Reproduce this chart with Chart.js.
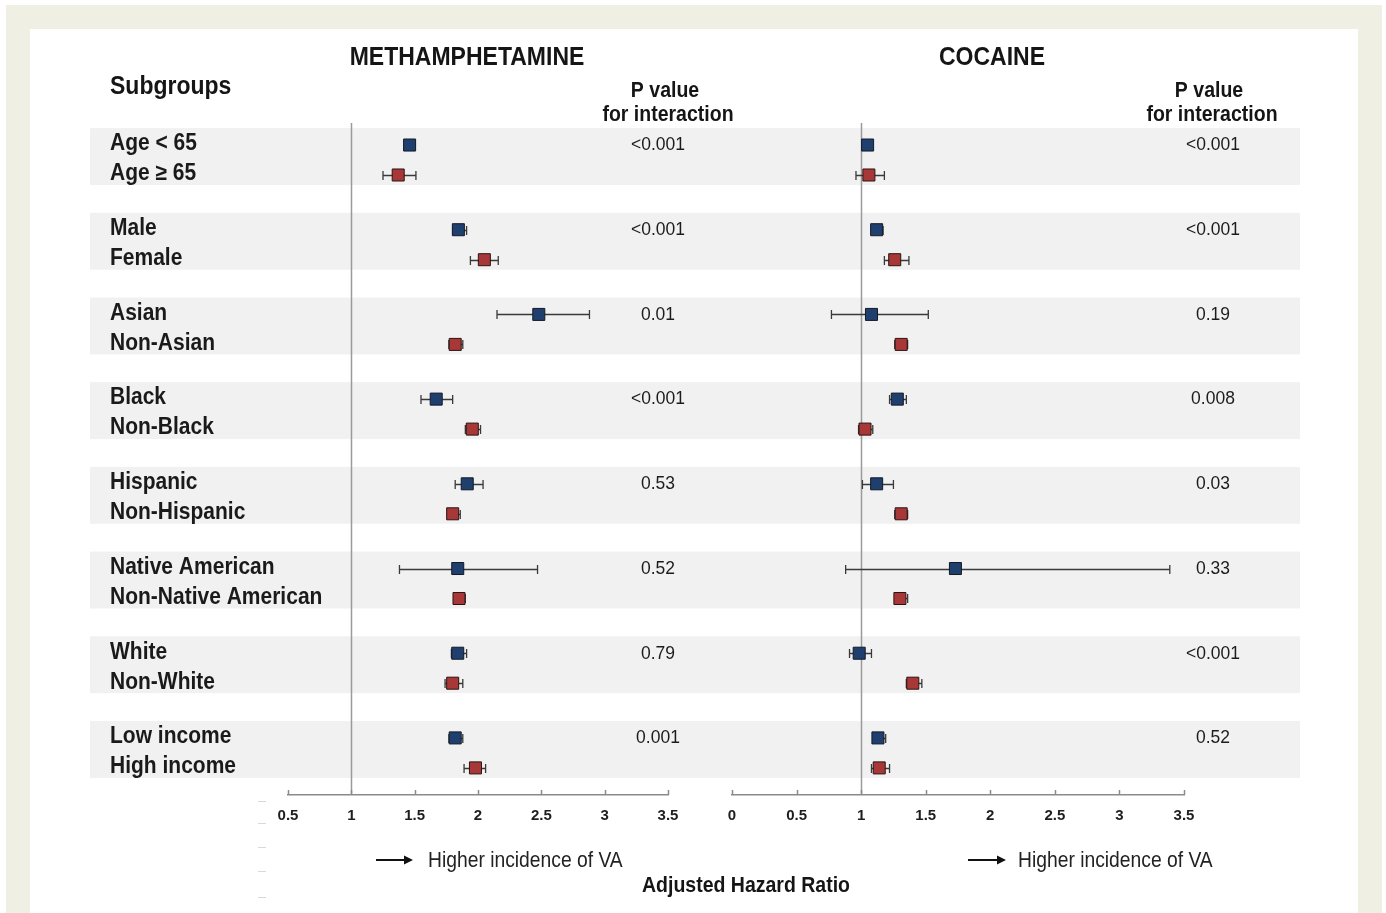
<!DOCTYPE html>
<html>
<head>
<meta charset="utf-8">
<script src="https://cdn.jsdelivr.net/npm/chart.js@4.4.1/dist/chart.umd.min.js"></script>
<style>
  html, body { margin: 0; padding: 0; background: #ffffff; }
  #wrap { position: relative; width: 1386px; height: 913px; overflow: hidden; }
  #wrap canvas { position: absolute; left: 0; top: 0; }
</style>
</head>
<body>
<div id="wrap">
  <canvas id="meth" width="1386" height="913"></canvas>
  <canvas id="coc" width="1386" height="913"></canvas>
</div>
<script>
// Subgroup rows, listed in pairs (first row of each pair in blue, second in red)
const subgroupLabels = [
  'Age < 65', 'Age \u2265 65',
  'Male', 'Female',
  'Asian', 'Non-Asian',
  'Black', 'Non-Black',
  'Hispanic', 'Non-Hispanic',
  'Native American', 'Non-Native American',
  'White', 'Non-White',
  'Low income', 'High income'
];

// Methamphetamine: adjusted hazard ratio with 95% CI
const methHR   = [1.46, 1.37, 1.845, 2.05, 2.48, 1.82, 1.67, 1.955, 1.915, 1.80, 1.84, 1.85, 1.84, 1.80, 1.82, 1.98];
const methLow  = [1.42, 1.25, 1.80, 1.94, 2.15, 1.77, 1.55, 1.90, 1.82, 1.76, 1.38, 1.81, 1.79, 1.74, 1.77, 1.89];
const methHigh = [1.50, 1.51, 1.91, 2.16, 2.88, 1.88, 1.80, 2.02, 2.04, 1.86, 2.47, 1.90, 1.91, 1.88, 1.88, 2.06];
const methP    = ['<0.001', '<0.001', '0.01', '<0.001', '0.53', '0.52', '0.79', '0.001'];

// Cocaine: adjusted hazard ratio with 95% CI
const cocHR    = [1.05, 1.06, 1.12, 1.26, 1.08, 1.31, 1.28, 1.03, 1.12, 1.31, 1.73, 1.30, 0.985, 1.40, 1.13, 1.14];
const cocLow   = [1.01, 0.96, 1.08, 1.18, 0.77, 1.26, 1.22, 0.98, 1.01, 1.26, 0.88, 1.26, 0.91, 1.35, 1.09, 1.08];
const cocHigh  = [1.08, 1.18, 1.17, 1.37, 1.52, 1.36, 1.35, 1.09, 1.25, 1.36, 3.39, 1.36, 1.08, 1.47, 1.19, 1.22];
const cocP     = ['<0.001', '<0.001', '0.19', '0.008', '0.03', '0.33', '<0.001', '0.52'];

// Axis ticks
const methTicks = [0.5, 1, 1.5, 2, 2.5, 3, 3.5];
const methTickLabels = ['0.5', '1', '1.5', '2', '2.5', '3', '3.5'];
const cocTicks = [0, 0.5, 1, 1.5, 2, 2.5, 3, 3.5];
const cocTickLabels = ['0', '0.5', '1', '1.5', '2', '2.5', '3', '3.5'];

// Row layout in y-scale units: one unit per subgroup pair
const SECOND_ROW = 0.354;      // offset of the second row in a pair
const BAND_TOP = -0.2;         // shaded band around each pair
const BAND_BOTTOM = 0.472;
const Y_MIN = -0.26, Y_MAX = 7.674;

const FONT = '"Liberation Sans", Arial, Helvetica, sans-serif';
const BLUE = '#1f3f6f';
const RED = '#a83838';
const STRETCH = 1.1;           // slightly tall lettering

function rowPos(i) { return Math.floor(i / 2) + (i % 2 ? SECOND_ROW : 0); }

function pointsFor(hr, parity) {
  const pts = [];
  hr.forEach((v, i) => { if (i % 2 === parity) pts.push({ x: v, y: rowPos(i), row: i }); });
  return pts;
}

// text drawn with a small vertical stretch around its middle line
function tallText(ctx, s, x, y, font, align, color) {
  ctx.save();
  ctx.font = font;
  ctx.textAlign = align;
  ctx.textBaseline = 'middle';
  ctx.fillStyle = color;
  ctx.translate(x, y);
  ctx.scale(1, STRETCH);
  ctx.fillText(s, 0, 0);
  ctx.restore();
}

// Page frame, shaded bands, headings and row labels
const pagePlugin = {
  id: 'page',
  beforeDraw(chart) {
    const ctx = chart.ctx;
    const y = chart.scales.y;
    ctx.save();
    ctx.fillStyle = '#ffffff';
    ctx.fillRect(0, 0, 1386, 913);
    ctx.fillStyle = '#efefe3';
    ctx.fillRect(6, 5, 1376, 908);
    ctx.fillStyle = '#ffffff';
    ctx.fillRect(30, 29, 1328, 884);

    // bands
    ctx.fillStyle = '#f1f1f1';
    for (let g = 0; g < subgroupLabels.length / 2; g++) {
      const t = y.getPixelForValue(g + BAND_TOP);
      const b = y.getPixelForValue(g + BAND_BOTTOM);
      ctx.fillRect(90, t, 1210, b - t);
    }

    // faint margin dashes
    ctx.strokeStyle = '#d9d9d9';
    ctx.lineWidth = 1;
    [801, 823, 847, 871, 897].forEach(v => {
      ctx.beginPath(); ctx.moveTo(258, v + 0.5); ctx.lineTo(266, v + 0.5); ctx.stroke();
    });

    const ink = '#151515';
    tallText(ctx, 'METHAMPHETAMINE', 467, 58, 'bold 23px ' + FONT, 'center', ink);
    tallText(ctx, 'COCAINE', 992, 58, 'bold 23px ' + FONT, 'center', ink);
    tallText(ctx, 'Subgroups', 110, 87, 'bold 23px ' + FONT, 'left', ink);

    subgroupLabels.forEach((lab, i) => {
      tallText(ctx, lab, 110, y.getPixelForValue(rowPos(i)) - 1, 'bold 21px ' + FONT, 'left', '#1a1a1a');
    });

    // headers for p values
    const hf = 'bold 19.5px ' + FONT;
    tallText(ctx, 'P value', 665, 91, hf, 'center', ink);
    tallText(ctx, 'for interaction', 668, 115, hf, 'center', ink);
    tallText(ctx, 'P value', 1209, 91, hf, 'center', ink);
    tallText(ctx, 'for interaction', 1212, 115, hf, 'center', ink);

    // footer
    tallText(ctx, 'Adjusted Hazard Ratio', 746, 886, hf, 'center', ink);
    tallText(ctx, 'Higher incidence of VA', 428, 861, '19.3px ' + FONT, 'left', '#222');
    tallText(ctx, 'Higher incidence of VA', 1018, 861, '19.3px ' + FONT, 'left', '#222');
    [[376, 413], [968, 1006]].forEach(([a, b]) => {
      ctx.strokeStyle = '#111';
      ctx.lineWidth = 2;
      ctx.beginPath(); ctx.moveTo(a, 860); ctx.lineTo(b - 6, 860); ctx.stroke();
      ctx.fillStyle = '#111';
      ctx.beginPath(); ctx.moveTo(b, 860); ctx.lineTo(b - 9, 855.5); ctx.lineTo(b - 9, 864.5); ctx.closePath(); ctx.fill();
    });
    ctx.restore();
  }
};

// Reference line at HR = 1, CI whiskers, upward tick marks and p values
const forestPlugin = {
  id: 'forest',
  beforeDatasetsDraw(chart, args, opts) {
    const ctx = chart.ctx;
    const x = chart.scales.x, y = chart.scales.y;
    const area = chart.chartArea;
    ctx.save();
    // reference line
    ctx.strokeStyle = '#9a9a9a';
    ctx.lineWidth = 1.5;
    const x1 = Math.round(x.getPixelForValue(1)) + 0.5;
    ctx.beginPath(); ctx.moveTo(x1, area.top); ctx.lineTo(x1, area.bottom); ctx.stroke();

    // tick marks pointing up from the axis line
    ctx.strokeStyle = '#8a8a8a';
    ctx.lineWidth = 1.5;
    opts.ticks.forEach(v => {
      const px = Math.round(x.getPixelForValue(v)) + 0.5;
      ctx.beginPath(); ctx.moveTo(px, area.bottom); ctx.lineTo(px, area.bottom - 5); ctx.stroke();
    });

    // CI whiskers
    ctx.strokeStyle = '#3a3a3a';
    ctx.lineWidth = 1.3;
    opts.low.forEach((lo, i) => {
      const py = Math.round(y.getPixelForValue(rowPos(i))) + 0.5;
      const a = x.getPixelForValue(lo), b = x.getPixelForValue(opts.high[i]);
      ctx.beginPath();
      ctx.moveTo(a, py); ctx.lineTo(b, py);
      ctx.moveTo(a, py - 4.5); ctx.lineTo(a, py + 4.5);
      ctx.moveTo(b, py - 4.5); ctx.lineTo(b, py + 4.5);
      ctx.stroke();
    });

    // p values for interaction
    opts.p.forEach((s, g) => {
      tallText(ctx, s, opts.pX, y.getPixelForValue(g), '17.5px ' + FONT, 'center', '#1c1c1c');
    });
    ctx.restore();
  }
};

function makeChart(id, hr, low, high, pvals, ticks, tickLabels, xmin, xmax, left, right, pX, plugins) {
  return new Chart(document.getElementById(id), {
    type: 'scatter',
    data: {
      datasets: [
        { data: pointsFor(hr, 0), backgroundColor: BLUE, borderColor: '#141a24' },
        { data: pointsFor(hr, 1), backgroundColor: RED, borderColor: '#2a1414' }
      ]
    },
    options: {
      responsive: false,
      animation: false,
      events: [],
      devicePixelRatio: 1,
      layout: { padding: { left: left, right: 1386 - right, top: 123, bottom: 88 } },
      elements: { point: { pointStyle: 'rect', radius: 8.5, borderWidth: 1 } },
      plugins: {
        legend: { display: false },
        tooltip: { enabled: false },
        forest: { low: low, high: high, p: pvals, ticks: ticks, pX: pX }
      },
      scales: {
        x: {
          type: 'linear',
          min: xmin, max: xmax,
          afterBuildTicks(scale) { scale.ticks = ticks.map(v => ({ value: v })); },
          afterFit(scale) { scale.height = 30; },
          ticks: {
            color: '#1e1e1e',
            font: { family: FONT, size: 15, weight: 'bold' },
            padding: 12,
            callback: (v) => tickLabels[ticks.indexOf(v)]
          },
          grid: { display: false, drawTicks: false },
          border: { display: true, color: '#8a8a8a', width: 1.5 }
        },
        y: {
          type: 'linear', reverse: true, min: Y_MIN, max: Y_MAX, display: false
        }
      }
    },
    plugins: plugins
  });
}

makeChart('meth', methHR, methLow, methHigh, methP, methTicks, methTickLabels, 0.5, 3.5, 288, 668, 658, [pagePlugin, forestPlugin]);
makeChart('coc', cocHR, cocLow, cocHigh, cocP, cocTicks, cocTickLabels, 0, 3.5, 732, 1184, 1213, [forestPlugin]);
</script>
</body>
</html>
